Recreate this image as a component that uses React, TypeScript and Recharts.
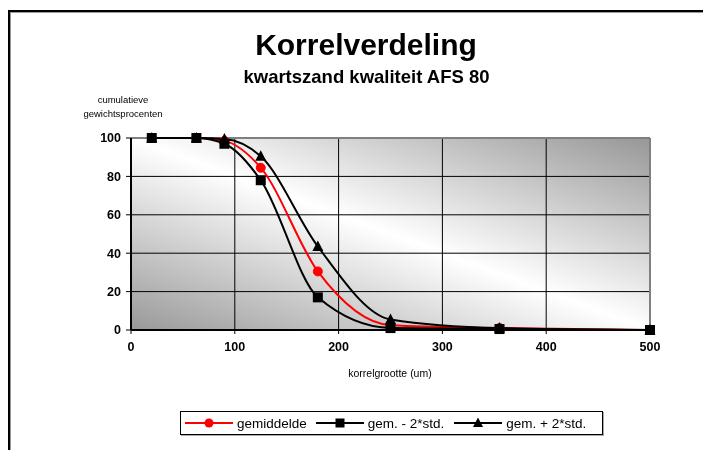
import React from "react";
import { CartesianGrid, Line, LineChart, ReferenceLine, XAxis, YAxis } from "recharts";

// zeefmaat (um) en cumulatieve gewichtsprocenten
const sizes = [20, 63, 90, 125, 180, 250, 355, 500];
const gemiddelde = [100, 100, 98.5, 84.5, 30.5, 2.5, 1, 0];
const gemMin = [100, 100, 97, 78, 17, 1, 0.5, 0];
const gemPlus = [100, 100, 99.5, 90.5, 43.5, 5.5, 1, 0];
const xTicks = [0, 100, 200, 300, 400, 500];
const yTicks = [0, 20, 40, 60, 80, 100];

const data = sizes.map((s, i) => ({
  size: s,
  gem: gemiddelde[i],
  min: gemMin[i],
  plus: gemPlus[i],
}));

const FONT = "'Liberation Sans', Arial, sans-serif";

function SquareDot(props: any) {
  const { cx, cy } = props;
  if (cx == null || cy == null) return null;
  return <rect x={cx - 5} y={cy - 5} width={10} height={10} fill="#000" />;
}

function TriangleDot(props: any) {
  const { cx, cy } = props;
  if (cx == null || cy == null) return null;
  return <path d={`M${cx},${cy - 6} L${cx + 5.5},${cy + 4.5} L${cx - 5.5},${cy + 4.5} Z`} fill="#000" />;
}

function LegendBox() {
  const item = (color: string, marker: React.ReactNode, text: string, gap: number) => (
    <div style={{ display: "flex", alignItems: "center", marginRight: gap }}>
      <svg width={48} height={14}>
        <line x1={0} y1={7} x2={48} y2={7} stroke={color} strokeWidth={2} />
        {marker}
      </svg>
      <span style={{ marginLeft: 4 }}>{text}</span>
    </div>
  );
  return (
    <div
      style={{
        position: "absolute",
        left: 172,
        top: 403,
        width: 417,
        height: 22,
        border: "1px solid #000",
        boxShadow: "1px 1px 0 #aaa",
        background: "#fff",
        display: "flex",
        alignItems: "center",
        paddingLeft: 4,
        fontFamily: FONT,
        fontSize: 13.5,
      }}
    >
      {item("#ff0000", <circle cx={24} cy={7} r={4.5} fill="#ff0000" />, "gemiddelde", 9)}
      {item("#000", <rect x={19.5} y={2.5} width={9} height={9} fill="#000" />, "gem. - 2*std.", 10)}
      {item("#000", <path d="M24,1.5 L29,11 L19,11 Z" fill="#000" />, "gem. + 2*std.", 0)}
    </div>
  );
}

export default function App() {
  return (
    <div style={{ position: "relative", width: 687, height: 442, fontFamily: FONT }}>
      <div
        style={{
          position: "fixed",
          left: 8,
          top: 10,
          width: 900,
          height: 700,
          borderLeft: "2px solid #000",
          borderTop: "2px solid #000",
          boxShadow: "inset 1px 1px 0 #999",
        }}
      />
      <div style={{ position: "absolute", left: 0, width: 716, top: 20, textAlign: "center", fontWeight: "bold", fontSize: 30, lineHeight: "34px" }}>
        Korrelverdeling
      </div>
      <div style={{ position: "absolute", left: 0, width: 717, top: 58, textAlign: "center", fontWeight: "bold", fontSize: 18.5, lineHeight: "22px" }}>
        kwartszand kwaliteit AFS 80
      </div>
      <div style={{ position: "absolute", left: 65, width: 100, top: 85, textAlign: "center", fontSize: 9.5, lineHeight: "14px" }}>
        cumulatieve
        <br />
        gewichtsprocenten
      </div>
      <div style={{ position: "absolute", left: 282, width: 200, top: 359, textAlign: "center", fontSize: 10.5 }}>
        korrelgrootte (um)
      </div>
      <LineChart
        width={687}
        height={442}
        data={data}
        margin={{ top: 130, right: 45, left: 63, bottom: 90 }}
        style={{ position: "absolute", left: 0, top: 0 }}
      >
        <defs>
          <linearGradient id="bg" x1="1" y1="0" x2="0" y2="1">
            <stop offset="0" stopColor="#979797" />
            <stop offset="0.5" stopColor="#ffffff" />
            <stop offset="1" stopColor="#999999" />
          </linearGradient>
        </defs>
        <CartesianGrid fill="url(#bg)" stroke="#000" strokeWidth={1} strokeOpacity={1} />
        <ReferenceLine y={100} stroke="#808080" strokeWidth={2} />
        <ReferenceLine x={500} stroke="#808080" strokeWidth={2} />
        <XAxis
          dataKey="size"
          type="number"
          domain={[0, 500]}
          ticks={xTicks}
          height={30}
          axisLine={{ stroke: "#000", strokeWidth: 2 }}
          tickLine={{ stroke: "#000" }}
          tickSize={4}
          tickMargin={8}
          tick={{ fill: "#000", fontSize: 12.5, fontWeight: "bold", fontFamily: FONT }}
        />
        <YAxis
          type="number"
          domain={[0, 100]}
          ticks={yTicks}
          width={60}
          axisLine={{ stroke: "#000", strokeWidth: 2 }}
          tickLine={{ stroke: "#000" }}
          tickSize={5}
          tickMargin={5}
          tick={{ fill: "#000", fontSize: 12.5, fontWeight: "bold", fontFamily: FONT }}
        />
        <Line
          type="monotone"
          dataKey="gem"
          stroke="#ff0000"
          strokeWidth={2}
          dot={{ r: 4.5, fill: "#ff0000", stroke: "#ff0000", strokeWidth: 1 }}
          isAnimationActive={false}
        />
        <Line type="monotone" dataKey="min" stroke="#000" strokeWidth={2} dot={<SquareDot />} isAnimationActive={false} />
        <Line type="monotone" dataKey="plus" stroke="#000" strokeWidth={2} dot={<TriangleDot />} isAnimationActive={false} />
      </LineChart>
      <LegendBox />
    </div>
  );
}
